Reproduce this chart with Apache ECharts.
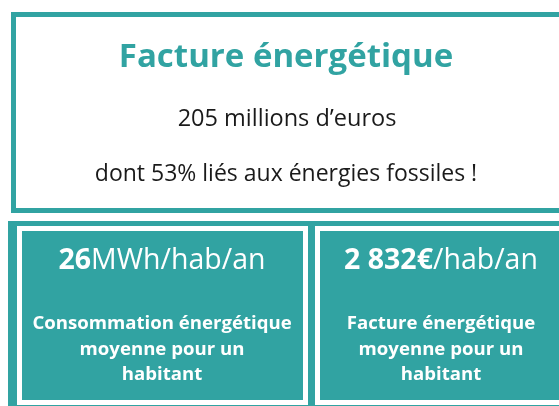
<!DOCTYPE html>
<html>
<head>
<meta charset="utf-8">
<script src="https://cdn.jsdelivr.net/npm/echarts@6/dist/echarts.min.js"></script>
<style>
html,body{margin:0;padding:0;background:#fff;}
#c{width:559px;height:406px;}
</style>
</head>
<body>
<div id="c"></div>
<script>
var headline = "Facture énergétique";
var totalLines = ["205 millions d’euros", "dont 53% liés aux énergies fossiles !"];
var metricValues = ["26", "2 832€"];
var metricUnits = ["MWh/hab/an", "/hab/an"];
var metricLabels = [
  ["Consommation énergétique", "moyenne pour un", "habitant"],
  ["Facture énergétique", "moyenne pour un", "habitant"]
];

var TEAL = "#31a3a2";
var FONT = "'Open Sans', sans-serif";
var chart = echarts.init(document.getElementById('c'), null, {renderer: 'canvas'});

var els = [];
// top framed box
els.push({type:'rect', shape:{x:13.5, y:14.5, width:560, height:196}, style:{fill:'#fff', stroke:TEAL, lineWidth:5}});
els.push({type:'text', x:286, y:58, style:{text:headline, fill:TEAL, font:"bold 33px " + FONT, align:'center', verticalAlign:'middle'}});
els.push({type:'text', x:287, y:119.5, style:{text:totalLines[0], fill:'#1a1a1a', font:"23.5px " + FONT, align:'center', verticalAlign:'middle'}});
els.push({type:'text', x:286, y:174.5, style:{text:totalLines[1], fill:'#1a1a1a', font:"23px " + FONT, align:'center', verticalAlign:'middle'}});

// bottom teal panel
els.push({type:'rect', shape:{x:8, y:221, width:600, height:200}, style:{fill:TEAL}});
var boxes = [{x:19.5, cx:162}, {x:317.5, cx:441}];
boxes.forEach(function (b, i) {
  els.push({type:'rect', shape:{x:b.x, y:228.5, width:286, height:174}, style:{fill:TEAL, stroke:'#fff', lineWidth:5}});
  els.push({type:'text', x:b.cx, y:260.5, style:{
    text:'{b|' + metricValues[i] + '}{r|' + metricUnits[i] + '}',
    align:'center', verticalAlign:'middle',
    rich:{
      b:{fill:'#fff', fontFamily:"Open Sans", fontWeight:'bold', fontSize:28.5},
      r:{fill:'#fff', fontFamily:"Open Sans", fontWeight:'normal', fontSize:28.5}
    }
  }});
  var ys = [324, 349.5, 375];
  metricLabels[i].forEach(function (t, j) {
    els.push({type:'text', x:b.cx, y:ys[j], style:{text:t, fill:'#fff', font:"bold 18.6px " + FONT, align:'center', verticalAlign:'middle'}});
  });
});

chart.setOption({backgroundColor:'#fff', animation:false, graphic:{elements:els}});
</script>
</body>
</html>
